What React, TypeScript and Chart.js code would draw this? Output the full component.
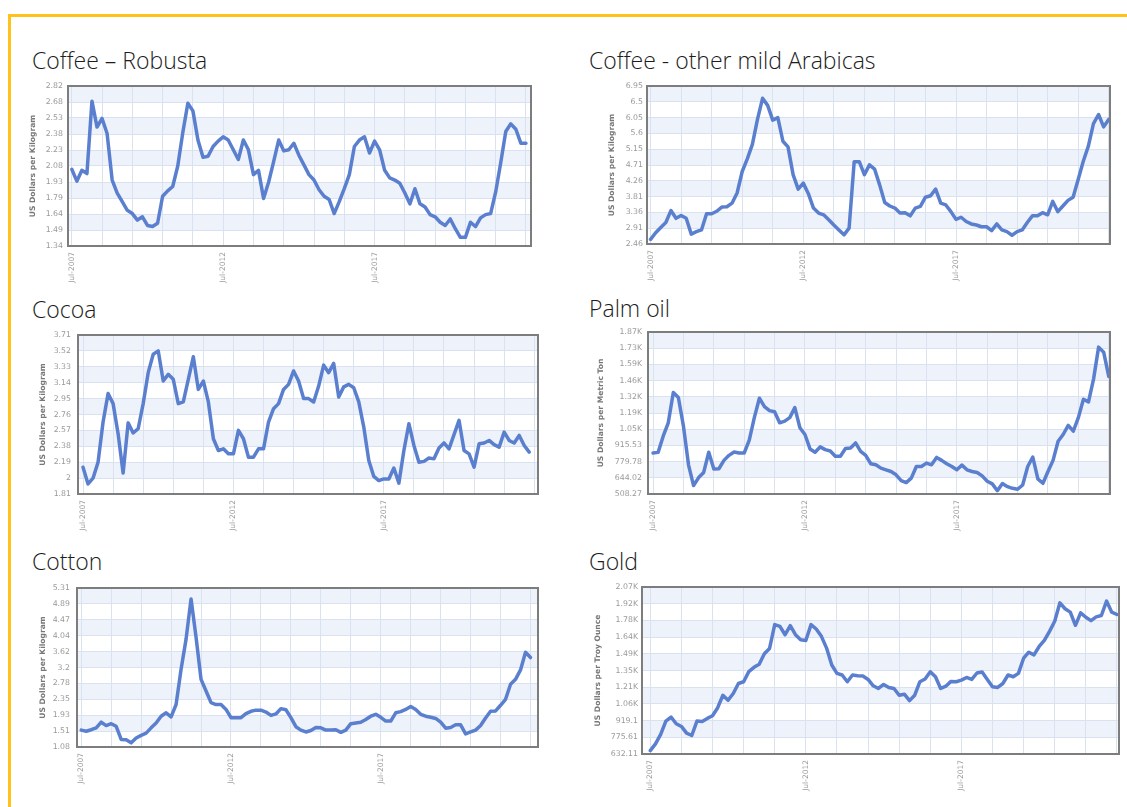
import React, { useEffect, useRef } from 'react';
import { Chart, registerables } from 'chart.js';

Chart.register(...registerables);

// ---------- data (every 2 months, from Jul-2007) ----------
const X_LABELS = ['Jul-2007', 'Jul-2012', 'Jul-2017'];
const YEAR_TICKS = [0, 12, 24, 36, 48, 60, 72, 84, 96, 108, 120, 132, 144, 156, 168, 180];
const STEP_MONTHS = 2;

const ROBUSTA = [
  2.05, 1.94, 2.04, 2.01, 2.68, 2.44, 2.52, 2.38, 1.95, 1.83,
  1.75, 1.67, 1.64, 1.58, 1.61, 1.53, 1.52, 1.55, 1.80, 1.85,
  1.89, 2.08, 2.39, 2.66, 2.59, 2.32, 2.16, 2.17, 2.26, 2.31,
  2.35, 2.32, 2.23, 2.14, 2.32, 2.23, 2.00, 2.04, 1.78, 1.93,
  2.12, 2.32, 2.22, 2.23, 2.29, 2.18, 2.09, 2.00, 1.95, 1.86,
  1.80, 1.77, 1.64, 1.75, 1.87, 2.00, 2.26, 2.32, 2.35, 2.20,
  2.31, 2.23, 2.04, 1.97, 1.95, 1.92, 1.83, 1.73, 1.87, 1.73,
  1.70, 1.63, 1.61, 1.56, 1.53, 1.59, 1.50, 1.42, 1.42, 1.56,
  1.52, 1.60, 1.63, 1.64, 1.84, 2.11, 2.40, 2.47, 2.42, 2.29,
  2.29,
];
const ROBUSTA_TICKS = ['1.34', '1.49', '1.64', '1.79', '1.93', '2.08', '2.23', '2.38', '2.53', '2.68', '2.82'];

const ARABICAS = [
  2.59, 2.78, 2.93, 3.07, 3.41, 3.19, 3.27, 3.19, 2.74, 2.81,
  2.86, 3.32, 3.32, 3.39, 3.51, 3.52, 3.62, 3.91, 4.52, 4.88,
  5.29, 6.00, 6.60, 6.40, 5.98, 6.05, 5.38, 5.22, 4.43, 4.02,
  4.19, 3.89, 3.48, 3.34, 3.29, 3.15, 3.00, 2.86, 2.72, 2.91,
  4.80, 4.80, 4.43, 4.71, 4.59, 4.14, 3.64, 3.54, 3.48, 3.34,
  3.35, 3.26, 3.48, 3.53, 3.79, 3.83, 4.02, 3.62, 3.57, 3.38,
  3.16, 3.22, 3.10, 3.03, 3.00, 2.95, 2.95, 2.84, 3.03, 2.86,
  2.81, 2.71, 2.81, 2.86, 3.07, 3.26, 3.26, 3.35, 3.29, 3.67,
  3.38, 3.54, 3.70, 3.79, 4.29, 4.81, 5.24, 5.88, 6.14, 5.79,
  6.00,
];
const ARABICAS_TICKS = ['2.46', '2.91', '3.36', '3.81', '4.26', '4.71', '5.15', '5.6', '6.05', '6.5', '6.95'];

const COCOA = [
  2.13, 1.93, 2.00, 2.19, 2.67, 3.01, 2.89, 2.53, 2.06, 2.66,
  2.54, 2.59, 2.89, 3.26, 3.48, 3.52, 3.16, 3.24, 3.18, 2.89,
  2.91, 3.18, 3.45, 3.06, 3.16, 2.91, 2.47, 2.33, 2.35, 2.29,
  2.29, 2.57, 2.47, 2.25, 2.25, 2.35, 2.35, 2.67, 2.83, 2.89,
  3.06, 3.12, 3.28, 3.16, 2.95, 2.95, 2.91, 3.10, 3.35, 3.26,
  3.37, 2.97, 3.09, 3.12, 3.08, 2.91, 2.61, 2.21, 2.02, 1.97,
  1.99, 1.99, 2.12, 1.94, 2.33, 2.65, 2.39, 2.19, 2.20, 2.24,
  2.23, 2.36, 2.42, 2.35, 2.52, 2.69, 2.33, 2.29, 2.13, 2.41,
  2.42, 2.45, 2.40, 2.37, 2.55, 2.45, 2.42, 2.51, 2.39, 2.31,
];
const COCOA_TICKS = ['1.81', '2', '2.19', '2.38', '2.57', '2.76', '2.95', '3.14', '3.33', '3.52', '3.71'];

const PALM_OIL = [
  852, 857, 993, 1105, 1359, 1317, 1077, 753, 579, 646,
  689, 858, 717, 720, 790, 832, 860, 852, 852, 959,
  1148, 1311, 1240, 1207, 1198, 1105, 1119, 1148, 1232, 1063,
  1007, 886, 858, 903, 880, 869, 824, 824, 889, 894,
  936, 866, 832, 762, 753, 725, 711, 697, 669, 621,
  604, 641, 739, 739, 767, 753, 815, 790, 762, 739,
  711, 750, 711, 697, 689, 660, 615, 593, 536, 596,
  570, 556, 548, 584, 739, 818, 635, 598, 697, 790,
  950, 1007, 1083, 1035, 1148, 1302, 1280, 1471, 1739, 1697,
  1494,
];
const PALM_OIL_TICKS = ['508.27', '644.02', '779.78', '915.53', '1.05K', '1.19K', '1.32K', '1.46K', '1.59K', '1.73K', '1.87K'];

const COTTON = [
  1.53, 1.50, 1.54, 1.59, 1.74, 1.65, 1.70, 1.63, 1.28, 1.27,
  1.19, 1.32, 1.39, 1.45, 1.59, 1.72, 1.90, 1.99, 1.88, 2.21,
  3.15, 3.95, 5.02, 4.00, 2.88, 2.57, 2.26, 2.21, 2.21, 2.08,
  1.86, 1.86, 1.86, 1.97, 2.03, 2.06, 2.06, 2.01, 1.92, 1.96,
  2.10, 2.07, 1.86, 1.62, 1.53, 1.48, 1.52, 1.60, 1.59, 1.53,
  1.53, 1.54, 1.47, 1.53, 1.70, 1.72, 1.74, 1.81, 1.90, 1.95,
  1.87, 1.77, 1.77, 1.99, 2.02, 2.08, 2.16, 2.08, 1.95, 1.90,
  1.87, 1.84, 1.74, 1.58, 1.60, 1.67, 1.67, 1.43, 1.48, 1.53,
  1.65, 1.85, 2.03, 2.04, 2.19, 2.35, 2.75, 2.88, 3.13, 3.60,
  3.46,
];
const COTTON_TICKS = ['1.08', '1.51', '1.93', '2.35', '2.78', '3.2', '3.62', '4.04', '4.47', '4.89', '5.31'];

const GOLD = [
  661, 719, 800, 915, 950, 892, 869, 811, 791, 915,
  912, 938, 961, 1030, 1137, 1094, 1152, 1238, 1253, 1340,
  1377, 1403, 1493, 1539, 1744, 1729, 1657, 1735, 1657, 1614,
  1608, 1744, 1706, 1643, 1542, 1397, 1325, 1311, 1253, 1311,
  1305, 1302, 1273, 1218, 1195, 1230, 1204, 1195, 1137, 1146,
  1091, 1137, 1253, 1276, 1339, 1296, 1195, 1215, 1256, 1253,
  1267, 1290, 1273, 1328, 1337, 1273, 1210, 1204, 1238, 1311,
  1296, 1325, 1455, 1507, 1484, 1556, 1608, 1686, 1773, 1931,
  1880, 1851, 1738, 1845, 1807, 1778, 1810, 1822, 1946, 1851,
  1831,
];
const GOLD_TICKS = ['632.11', '775.61', '919.1', '1.06K', '1.21K', '1.35K', '1.49K', '1.64K', '1.78K', '1.92K', '2.07K'];

// ---------- panel definitions ----------
type PanelDef = {
  title: string;
  unit: string;
  values: number[];
  tickLabels: string[];
  yMin: number;
  yMax: number;
  xMin: number;
  xMax: number;
  titleX: number;
  titleTop: number;
  L: number; T: number; R: number; B: number;
  wy: number;
  labelPad: number;
};

const PANELS: PanelDef[] = [
  { title: 'Coffee – Robusta', unit: 'US Dollars per Kilogram', values: ROBUSTA, tickLabels: ROBUSTA_TICKS,
    yMin: 1.34, yMax: 2.82, xMin: -1.5, xMax: 182,
    titleX: 32, titleTop: 49, L: 68, T: 86, R: 531, B: 246, wy: 40, labelPad: 5 },
  { title: 'Coffee - other mild Arabicas', unit: 'US Dollars per Kilogram', values: ARABICAS, tickLabels: ARABICAS_TICKS,
    yMin: 2.46, yMax: 6.95, xMin: -1.4, xMax: 180.5,
    titleX: 589, titleTop: 49, L: 647, T: 86, R: 1110, B: 244, wy: 40, labelPad: 4 },
  { title: 'Cocoa', unit: 'US Dollars per Kilogram', values: COCOA, tickLabels: COCOA_TICKS,
    yMin: 1.81, yMax: 3.71, xMin: -2, xMax: 181.5,
    titleX: 32, titleTop: 298, L: 78, T: 335, R: 538, B: 494, wy: 40, labelPad: 7 },
  { title: 'Palm oil', unit: 'US Dollars per Metric Ton', values: PALM_OIL, tickLabels: PALM_OIL_TICKS,
    yMin: 508.27, yMax: 1865.77, xMin: -2, xMax: 180.5,
    titleX: 589, titleTop: 297, L: 648, T: 332, R: 1110, B: 494, wy: 52, labelPad: 6 },
  { title: 'Cotton', unit: 'US Dollars per Kilogram', values: COTTON, tickLabels: COTTON_TICKS,
    yMin: 1.08, yMax: 5.31, xMin: -1.7, xMax: 183,
    titleX: 32, titleTop: 550, L: 77, T: 588, R: 538, B: 747, wy: 39, labelPad: 7 },
  { title: 'Gold', unit: 'US Dollars per Troy Ounce', values: GOLD, tickLabels: GOLD_TICKS,
    yMin: 632.11, yMax: 2067.11, xMin: -3.2, xMax: 180.8,
    titleX: 589, titleTop: 550, L: 642, T: 587, R: 1119, B: 754, wy: 49, labelPad: 4 },
];

const PAD_TOP = 8;
const PAD_RIGHT = 2;
const X_AXIS_H = 42;
const LINE_COLOR = '#5b7fcf';
const BAND_COLOR = '#eef2fa';
const GRID_COLOR = '#dae2f0';
const TICK_COLOR = '#9a9a9a';

const framePlugin = {
  id: 'frame',
  beforeDraw(chart: any) {
    const { ctx, chartArea: a, scales } = chart;
    const y = scales.y;
    ctx.save();
    ctx.fillStyle = '#ffffff';
    ctx.fillRect(a.left, a.top, a.right - a.left, a.bottom - a.top);
    ctx.fillStyle = BAND_COLOR;
    const t = y.ticks;
    for (let i = t.length - 1; i > 0; i -= 2) {
      const y1 = y.getPixelForValue(t[i].value);
      const y0 = y.getPixelForValue(t[i - 1].value);
      ctx.fillRect(a.left, y1, a.right - a.left, y0 - y1);
    }
    ctx.restore();
  },
  afterDraw(chart: any) {
    const { ctx, chartArea: a } = chart;
    ctx.save();
    ctx.strokeStyle = '#7d7d7d';
    ctx.lineWidth = 2;
    ctx.strokeRect(a.left, a.top, a.right - a.left, a.bottom - a.top);
    ctx.restore();
  },
};

const zeroPad = (s: any) => {
  s.paddingTop = 0;
  s.paddingBottom = 0;
  s.paddingLeft = 0;
  s.paddingRight = 0;
};

function ChartPanel({ p }: { p: PanelDef }) {
  const ref = useRef<HTMLCanvasElement>(null);
  const w = p.wy + (p.R - p.L) + PAD_RIGHT;
  const h = PAD_TOP + (p.B - p.T) + X_AXIS_H;
  const left = p.L - p.wy;
  const top = p.T - PAD_TOP;

  useEffect(() => {
    const canvas = ref.current;
    if (!canvas) return;
    const step = (p.yMax - p.yMin) / (p.tickLabels.length - 1);
    const chart = new Chart(canvas, {
      type: 'line',
      data: {
        datasets: [
          {
            data: p.values.map((v, i) => ({ x: i * STEP_MONTHS, y: v })),
            borderColor: LINE_COLOR,
            borderWidth: 3.5,
            pointRadius: 0,
            tension: 0,
            borderJoinStyle: 'round',
            borderCapStyle: 'round',
            fill: false,
          },
        ],
      },
      options: {
        animation: false,
        responsive: false,
        devicePixelRatio: 1,
        events: [],
        layout: { padding: { top: PAD_TOP, right: PAD_RIGHT, left: 0, bottom: 0 } },
        plugins: { legend: { display: false }, tooltip: { enabled: false }, title: { display: false } },
        scales: {
          x: {
            type: 'linear',
            min: p.xMin,
            max: p.xMax,
            afterBuildTicks: (s: any) => {
              s.ticks = YEAR_TICKS.map((v) => ({ value: v }));
            },
            afterFit: (s: any) => {
              s.height = X_AXIS_H;
              zeroPad(s);
            },
            grid: { color: GRID_COLOR, drawTicks: false, lineWidth: 1 },
            border: { display: false },
            ticks: {
              autoSkip: false,
              minRotation: 90,
              maxRotation: 90,
              padding: 6,
              color: TICK_COLOR,
              font: { family: 'DejaVu Sans', size: 7.5 },
              callback: (_v: any, i: number) => (i % 5 === 0 ? X_LABELS[i / 5] ?? '' : ''),
            },
          },
          y: {
            type: 'linear',
            min: p.yMin,
            max: p.yMax,
            afterBuildTicks: (s: any) => {
              s.ticks = p.tickLabels.map((_, i) => ({ value: p.yMin + i * step }));
            },
            afterFit: (s: any) => {
              s.width = p.wy;
              zeroPad(s);
            },
            grid: { color: GRID_COLOR, drawTicks: false, lineWidth: 1 },
            border: { display: false },
            ticks: {
              padding: p.labelPad,
              color: TICK_COLOR,
              font: { family: 'DejaVu Sans', size: 7.8 },
              callback: (_v: any, i: number) => p.tickLabels[i],
            },
            title: {
              display: true,
              text: p.unit,
              color: '#777777',
              padding: 0,
              font: { family: 'DejaVu Sans', size: 7.6, weight: 'bold' },
            },
          },
        },
      },
      plugins: [framePlugin],
    } as any);
    return () => chart.destroy();
  }, [p]);

  return (
    <>
      <div
        style={{
          position: 'absolute',
          left: p.titleX,
          top: p.titleTop,
          fontFamily: '"Open Sans", sans-serif',
          fontSize: 23,
          fontWeight: 300,
          lineHeight: '23px',
          color: '#1c1c1c',
          whiteSpace: 'nowrap',
        }}
      >
        {p.title}
      </div>
      <canvas
        ref={ref}
        width={w}
        height={h}
        style={{ position: 'absolute', left, top, width: w, height: h, display: 'block' }}
      />
    </>
  );
}

export default function App() {
  return (
    <div
      style={{
        position: 'absolute',
        left: 0,
        top: 0,
        width: 1127,
        height: 807,
        overflow: 'hidden',
        background: '#ffffff',
      }}
    >
      <div
        style={{
          position: 'absolute',
          left: 8,
          top: 14,
          width: 1127,
          height: 807,
          borderLeft: '3px solid #ffc21a',
          borderTop: '3px solid #ffc21a',
        }}
      />
      {PANELS.map((p) => (
        <ChartPanel key={p.title} p={p} />
      ))}
    </div>
  );
}
